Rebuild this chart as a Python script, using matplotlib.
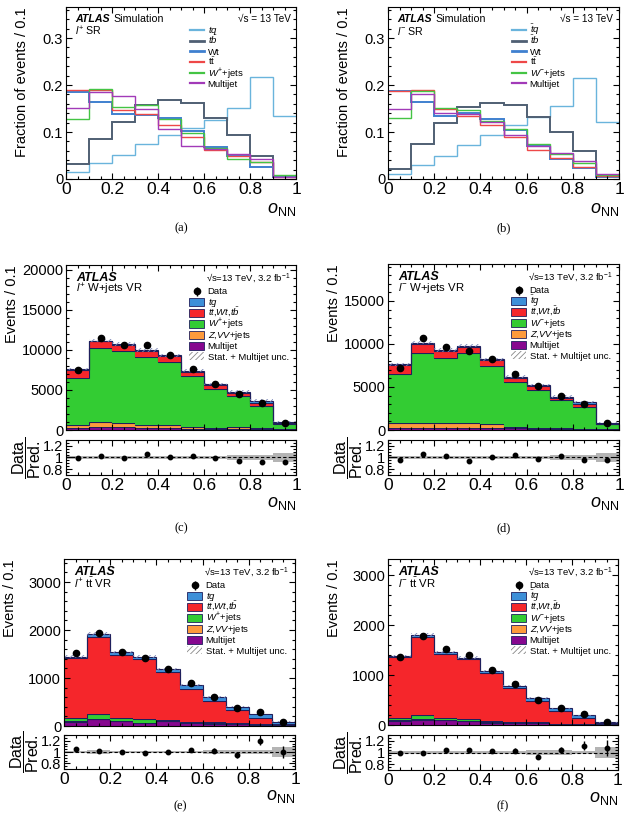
import numpy as np
import matplotlib
matplotlib.use('Agg')
import matplotlib.pyplot as plt
from matplotlib.patches import Rectangle
from matplotlib.ticker import AutoMinorLocator, MultipleLocator

plt.rcParams['font.family'] = ['Liberation Sans', 'DejaVu Sans']
plt.rcParams['mathtext.fontset'] = 'custom'
plt.rcParams['mathtext.rm'] = 'Liberation Sans'
plt.rcParams['mathtext.it'] = 'Liberation Sans:italic'
plt.rcParams['mathtext.bf'] = 'Liberation Sans:bold'
plt.rcParams['hatch.linewidth'] = 0.6

# bin edges of o_NN
edges = [0.0, 0.1, 0.2, 0.3, 0.4, 0.5, 0.6, 0.7, 0.8, 0.9, 1.0]

# (a) l+ SR, normalised shapes
a_tq = [0.014, 0.034, 0.052, 0.075, 0.094, 0.108, 0.126, 0.151, 0.218, 0.134]
a_tb = [0.031, 0.085, 0.121, 0.157, 0.169, 0.162, 0.130, 0.093, 0.049, 0.005]
a_wt = [0.186, 0.163, 0.138, 0.136, 0.130, 0.102, 0.068, 0.048, 0.025, 0.004]
a_tt = [0.190, 0.190, 0.146, 0.138, 0.115, 0.090, 0.062, 0.048, 0.036, 0.005]
a_wjets = [0.128, 0.192, 0.153, 0.157, 0.127, 0.097, 0.066, 0.042, 0.036, 0.009]
a_multijet = [0.151, 0.185, 0.177, 0.148, 0.107, 0.070, 0.064, 0.054, 0.043, 0.004]

# (b) l- SR
b_tq = [0.010, 0.029, 0.048, 0.072, 0.094, 0.115, 0.131, 0.156, 0.216, 0.122]
b_tb = [0.022, 0.074, 0.120, 0.153, 0.162, 0.158, 0.131, 0.101, 0.060, 0.006]
b_wt = [0.187, 0.164, 0.135, 0.141, 0.128, 0.104, 0.071, 0.042, 0.024, 0.004]
b_tt = [0.187, 0.190, 0.149, 0.135, 0.115, 0.089, 0.061, 0.044, 0.026, 0.006]
b_wjets = [0.129, 0.187, 0.152, 0.146, 0.124, 0.106, 0.074, 0.053, 0.033, 0.009]
b_multijet = [0.149, 0.181, 0.141, 0.139, 0.121, 0.094, 0.071, 0.055, 0.039, 0.010]

# (c) l+ W+jets VR
c_tq = [100, 110, 120, 130, 130, 150, 170, 190, 250, 180]
c_top = [1020, 850, 710, 700, 660, 520, 500, 310, 380, 70]
c_wjets = [5840, 9250, 9090, 8500, 7870, 6330, 4830, 3960, 2830, 670]
c_zvv = [380, 630, 500, 420, 460, 250, 130, 200, 130, 40]
c_multijet = [250, 330, 330, 250, 210, 170, 125, 125, 80, 40]
c_data = [7500, 11500, 10630, 10550, 9375, 7670, 5750, 4500, 3380, 920]
c_unc = [0.02, 0.02, 0.02, 0.02, 0.02, 0.02, 0.025, 0.04, 0.04, 0.07]

# (d) l- W+jets VR
d_tq = [100, 110, 110, 120, 120, 130, 150, 170, 200, 150]
d_top = [1070, 1055, 860, 780, 660, 450, 430, 220, 320, 40]
d_wjets = [5695, 8140, 7480, 8060, 6780, 5230, 4380, 3220, 2555, 580]
d_zvv = [545, 580, 580, 580, 430, 200, 115, 115, 40, 40]
d_multijet = [230, 270, 270, 270, 230, 190, 155, 155, 115, 40]
d_data = [7250, 10740, 9610, 9230, 8260, 6510, 5120, 3990, 3080, 820]
d_unc = [0.02, 0.02, 0.02, 0.02, 0.02, 0.03, 0.03, 0.035, 0.04, 0.07]

# (e) l+ ttbar VR
e_tq = [34, 50, 50, 54, 62, 84, 77, 70, 90, 45]
e_top = [1236, 1617, 1311, 1244, 993, 680, 444, 278, 118, 25]
e_wjets = [79, 88, 62, 74, 15, 22, 20, 15, 13, 8]
e_zvv = [15, 15, 12, 12, 10, 8, 6, 5, 4, 2]
e_multijet = [80, 140, 100, 60, 100, 60, 50, 35, 25, 10]
e_data = [1527, 1930, 1534, 1410, 1180, 888, 611, 380, 298, 90]
e_unc = [0.02, 0.03, 0.02, 0.02, 0.02, 0.02, 0.04, 0.04, 0.03, 0.08]

# (f) l- ttbar VR
f_tq = [27, 33, 33, 34, 33, 54, 46, 46, 48, 19]
f_top = [1220, 1574, 1280, 1193, 967, 673, 427, 260, 127, 20]
f_wjets = [41, 70, 30, 35, 22, 10, 10, 8, 7, 6]
f_zvv = [12, 13, 10, 10, 8, 5, 5, 4, 3, 2]
f_multijet = [80, 110, 100, 75, 50, 45, 45, 15, 10, 5]
f_data = [1360, 1787, 1513, 1407, 1100, 813, 496, 347, 218, 56]
f_unc = [0.02, 0.02, 0.02, 0.02, 0.02, 0.02, 0.04, 0.05, 0.03, 0.09]

W, H = 629, 813
fig = plt.figure(figsize=(W / 100, H / 100), dpi=100)

NAVY = '#1f1f5c'
frac_colors = ['#6ab4dc', '#4f5f73', '#3f80cf', '#ee4848', '#44c444', '#a23ab8']
frac_lw = [1.0, 1.4, 1.4, 1.0, 1.0, 1.0]
stack_colors = ['#86078f', '#fd9a3c', '#33cc33', '#f5262b', '#3d8fd8']
LEG_FS = 6.8
BASE = 3.3  # px from row centre down to text baseline


def add_ax(l, t, r, b):
    ax = fig.add_axes([l / W, 1 - b / H, (r - l) / W, (b - t) / H])
    ax.px = (r - l, b - t)
    return ax


def fx(ax, dx):
    return dx / ax.px[0]


def fy(ax, dy):
    return 1 - dy / ax.px[1]


def style(ax, xfont=12.5, yfont=10.5):
    ax.tick_params(which='both', direction='in', top=True, right=True)
    ax.tick_params(which='major', length=4.5, width=0.8)
    ax.tick_params(which='minor', length=2.2, width=0.8)
    ax.tick_params(axis='x', labelsize=xfont, pad=2)
    ax.tick_params(axis='y', labelsize=yfont, pad=2)
    ax.xaxis.set_major_locator(MultipleLocator(0.2))
    ax.xaxis.set_minor_locator(MultipleLocator(0.05))
    ax.set_xlim(0, 1)
    ax.xaxis.set_major_formatter(plt.FuncFormatter(lambda v, p: f'{v:g}'))


def xlabel(ax, ypx_frac):
    ax.set_xlabel(r'$o_{\mathrm{NN}}$', fontsize=13)
    ax.xaxis.set_label_coords(1.0, ypx_frac)
    ax.xaxis.label.set_ha('right')
    ax.xaxis.label.set_va('center')


def caption(x, y, s):
    fig.text(x / W, 1 - y / H, s, ha='center', va='center',
             family='Liberation Serif', fontsize=9)


def leg_text(ax, y, s):
    ax.text(fx(ax, 141.5), fy(ax, y + BASE), s, transform=ax.transAxes,
            fontsize=LEG_FS, va='baseline')


def frac_panel(box, series, labels, region):
    ax = add_ax(*box)
    for vals, col, lw in zip(series, frac_colors, frac_lw):
        ax.stairs(vals, edges, baseline=None, color=col, lw=lw)
    style(ax)
    ax.set_ylim(0, 0.365)
    ax.yaxis.set_major_locator(MultipleLocator(0.1))
    ax.yaxis.set_minor_locator(AutoMinorLocator(5))
    ax.yaxis.set_major_formatter(plt.FuncFormatter(lambda v, p: f'{v:g}'))
    ax.set_ylabel('Fraction of events / 0.1', fontsize=10.5, loc='top')
    ax.yaxis.set_label_coords(-0.19, 1.0)
    ax.yaxis.label.set_va('center')
    xlabel(ax, -0.18)
    ax.text(fx(ax, 9), fy(ax, 11.5), 'ATLAS', transform=ax.transAxes,
            fontsize=7.7, weight='bold', style='italic', va='center')
    ax.text(fx(ax, 47), fy(ax, 11.5), 'Simulation', transform=ax.transAxes,
            fontsize=7.7, va='center')
    ax.text(fx(ax, 9), fy(ax, 23.5), region, transform=ax.transAxes,
            fontsize=7.7, va='center')
    ax.text(fx(ax, 225), fy(ax, 11.5), '√s = 13 TeV', transform=ax.transAxes,
            fontsize=7.2, ha='right', va='center')
    # legend
    for i, (lab, col, lw) in enumerate(zip(labels, frac_colors, frac_lw)):
        y = 22.5 + 10.7 * i
        ax.plot([fx(ax, 124), fx(ax, 138)], [fy(ax, y), fy(ax, y)],
                transform=ax.transAxes, color=col, lw=lw + 0.6, clip_on=False)
        leg_text(ax, y, lab)
    return ax


def stack_panel(box_main, box_ratio, comps, data, unc, labels, region, ymax,
                ystep):
    ax = add_ax(*box_main)
    rx = add_ax(*box_ratio)
    bottom = np.zeros(10)
    for vals, col in zip(comps, stack_colors):
        top = bottom + np.array(vals)
        ax.stairs(top, edges, baseline=bottom, fill=True, color=col, lw=0)
        ax.stairs(top, edges, baseline=None, color=NAVY, lw=0.8)
        bottom = top
    total = bottom
    unc = np.array(unc)
    data = np.array(data, dtype=float)
    ax.stairs(total * (1 + unc), edges, baseline=total * (1 - unc), fill=True,
              facecolor='none', edgecolor='#7a86b8', hatch='//////', lw=0)
    centres = 0.5 * (np.array(edges[:-1]) + np.array(edges[1:]))
    ax.errorbar(centres, data, yerr=np.sqrt(data), fmt='o', color='black',
                ms=4.5, lw=1, capsize=0)
    style(ax)
    ax.tick_params(axis='x', labelbottom=False)
    ax.set_ylim(0, ymax)
    ax.yaxis.set_major_locator(MultipleLocator(ystep))
    ax.yaxis.set_minor_locator(AutoMinorLocator(5))
    ax.set_ylabel('Events / 0.1', fontsize=10.5, loc='top')
    ax.yaxis.set_label_coords(-0.235, 1.0)
    ax.yaxis.label.set_va('center')
    ax.text(fx(ax, 10), fy(ax, 13), 'ATLAS', transform=ax.transAxes,
            fontsize=9.0, weight='bold', style='italic', va='center')
    ax.text(fx(ax, 10), fy(ax, 24), region, transform=ax.transAxes,
            fontsize=8.2, va='center')
    ax.text(fx(ax, 225), fy(ax, 13), '√s=13 TeV, 3.2 fb$^{-1}$',
            transform=ax.transAxes, fontsize=6.8, ha='right', va='center')
    # legend
    y0 = 26
    step = 10.9
    ax.errorbar([fx(ax, 131)], [fy(ax, y0)], yerr=[4.5 / ax.px[1]], fmt='o',
                color='black', ms=4.5, lw=1, capsize=0, transform=ax.transAxes,
                clip_on=False)
    leg_text(ax, y0, labels[0])
    for i, col in enumerate(stack_colors[::-1]):
        y = y0 + step * (i + 1)
        ax.add_patch(Rectangle((fx(ax, 123), fy(ax, y + 4)), 15 / ax.px[0],
                               8 / ax.px[1], transform=ax.transAxes,
                               facecolor=col, edgecolor=NAVY, lw=0.6,
                               clip_on=False))
        leg_text(ax, y, labels[i + 1])
    y = y0 + step * 6
    ax.add_patch(Rectangle((fx(ax, 123), fy(ax, y + 4)), 15 / ax.px[0],
                           8 / ax.px[1], transform=ax.transAxes,
                           facecolor='white', edgecolor='#888888',
                           hatch='//////', lw=0, clip_on=False))
    leg_text(ax, y, labels[6])

    ratio = data / total
    rx.stairs(1 + unc, edges, baseline=1 - unc, fill=True, color='#b4b4b4', lw=0)
    rx.axhline(1, color='black', lw=0.8, ls=(0, (3, 2)))
    rx.errorbar(centres, ratio, yerr=np.sqrt(data) / total, fmt='o',
                color='black', ms=3.2, lw=1, capsize=0)
    style(rx)
    rx.set_ylim(0.7, 1.3)
    rx.set_yticks([0.8, 1.0, 1.2])
    rx.set_yticklabels(['0.8', '1', '1.2'])
    rx.yaxis.set_minor_locator(MultipleLocator(0.05))
    rx.set_ylabel(r'$\dfrac{\mathrm{Data}}{\mathrm{Pred.}}$', fontsize=11.5)
    rx.yaxis.set_label_coords(-0.17, 0.5)
    rx.yaxis.label.set_va('center')
    xlabel(rx, -0.8)
    return ax, rx


frac_panel((66, 7.5, 296, 179), [a_tq, a_tb, a_wt, a_tt, a_wjets, a_multijet],
           ['$tq$', r'$t\bar{b}$', 'Wt', r't$\bar{\mathrm{t}}$', '$W^{+}$+jets',
            'Multijet'], '$l^{+}$ SR')
frac_panel((388, 7.5, 619, 179), [b_tq, b_tb, b_wt, b_tt, b_wjets, b_multijet],
           [r'$\bar{t}q$', r'$\bar{t}b$', 'Wt', r't$\bar{\mathrm{t}}$',
            '$W^{-}$+jets', 'Multijet'], '$l^{-}$ SR')

lab_plus = ['Data', '$tq$', r'$t\bar{t}$,$Wt$,$t\bar{b}$', '$W^{+}$+jets',
            '$Z$,$VV$+jets', 'Multijet', 'Stat. + Multijet unc.']
lab_minus = ['Data', r'$\bar{t}q$', r'$t\bar{t}$,$Wt$,$\bar{t}b$', '$W^{-}$+jets',
             '$Z$,$VV$+jets', 'Multijet', 'Stat. + Multijet unc.']

stack_panel((66, 265, 296, 430), (66, 440, 296, 475),
            [c_multijet, c_zvv, c_wjets, c_top, c_tq], c_data, c_unc, lab_plus,
            '$l^{+}$ W+jets VR', 20600, 5000)
stack_panel((388, 264, 619, 430), (388, 440, 619, 475),
            [d_multijet, d_zvv, d_wjets, d_top, d_tq], d_data, d_unc, lab_minus,
            '$l^{-}$ W+jets VR', 19300, 5000)
stack_panel((64, 559, 295, 726), (64, 735, 295, 769),
            [e_multijet, e_zvv, e_wjets, e_top, e_tq], e_data, e_unc, lab_plus,
            r'$l^{+}$ t$\bar{\mathrm{t}}$ VR', 3480, 1000)
stack_panel((388, 559, 618, 725), (388, 735, 618, 770),
            [f_multijet, f_zvv, f_wjets, f_top, f_tq], f_data, f_unc, lab_minus,
            r'$l^{-}$ t$\bar{\mathrm{t}}$ VR', 3320, 1000)

caption(181, 228, '(a)')
caption(504, 228, '(b)')
caption(181, 528, '(c)')
caption(504, 528, '(d)')
caption(180, 806, '(e)')
caption(503, 806, '(f)')

fig.savefig('out.png', dpi=100)
